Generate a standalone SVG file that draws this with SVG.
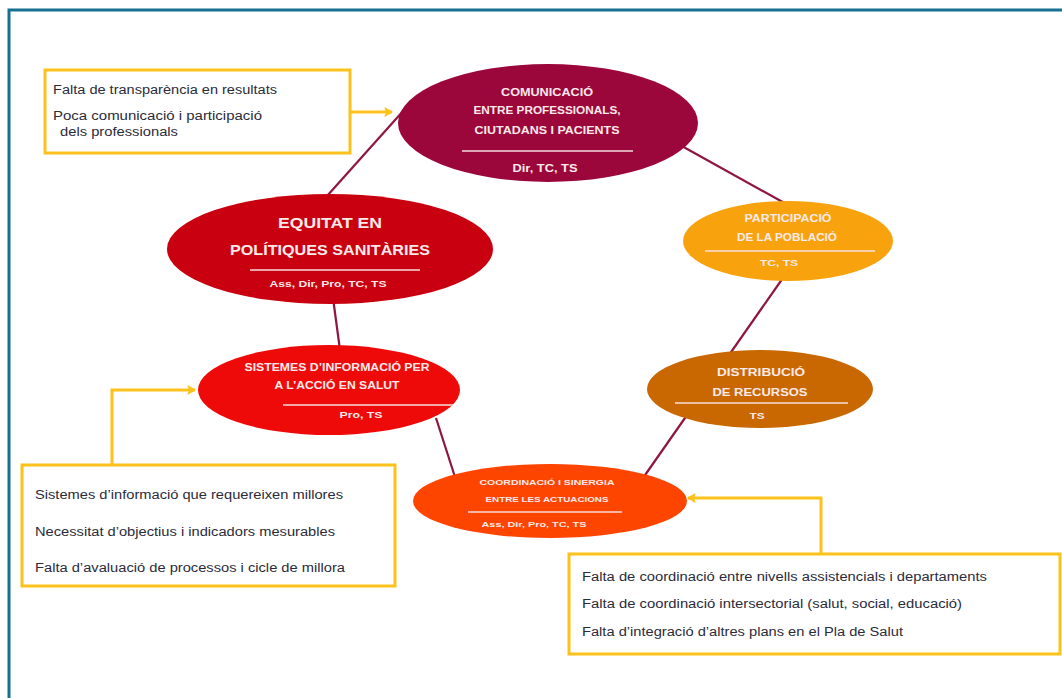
<svg xmlns="http://www.w3.org/2000/svg" width="1062" height="698" viewBox="0 0 1062 698">
  <defs>
    <marker id="arrowY" viewBox="0 0 10 10" refX="8.5" refY="5" markerWidth="10" markerHeight="10" markerUnits="userSpaceOnUse" orient="auto">
      <path d="M1.5,1 L8.5,5 L1.5,9 L3.5,5 Z" fill="#fcc21b" stroke="#fcc21b" stroke-width="1.2" stroke-linejoin="round"/>
    </marker>
    <style>
      .frame { fill: none; stroke: #15718f; stroke-width: 3; }
      .box { fill: #ffffff; stroke: #fcc21b; stroke-width: 3; }
      .flow { fill: none; stroke: #fcc21b; stroke-width: 3; marker-end: url(#arrowY); }
      .link { stroke: #8e1640; stroke-width: 2.2; fill: none; }
      .sep { stroke: #f6dede; stroke-width: 1.5; }
      .t { font-family: "Liberation Sans", Arial, sans-serif; font-weight: bold; fill: #fbeaea; text-anchor: middle; }
      .note { font-family: "Liberation Sans", Arial, sans-serif; font-size: 12px; fill: #2b2b3a; }
    </style>
  </defs>

  <rect width="1062" height="698" fill="#ffffff"/>
  <rect class="frame" x="9" y="10" width="1100" height="760"/>

  <!-- connectors between the themes, and arrows from the problem boxes -->
  <g id="connectors">
    <line class="link" x1="327" y1="196" x2="404" y2="110"/>
    <line class="link" x1="680" y1="145" x2="788" y2="205"/>
    <line class="link" x1="333" y1="298" x2="340" y2="350"/>
    <line class="link" x1="436" y1="418" x2="455" y2="477"/>
    <line class="link" x1="785" y1="275" x2="643" y2="478"/>
    <line class="flow" x1="350" y1="112" x2="392" y2="112"/>
    <polyline class="flow" points="112,465 112,390 195,390"/>
    <polyline class="flow" points="821,554 821,498 688,498"/>
  </g>

  <g id="comunicacio">
    <ellipse cx="548" cy="123" rx="150" ry="59" fill="#9b063b"/>
    <text class="t" font-size="10" x="547" y="96" textLength="92" lengthAdjust="spacingAndGlyphs">COMUNICACIÓ</text>
    <text class="t" font-size="10" x="547" y="114" textLength="147" lengthAdjust="spacingAndGlyphs">ENTRE PROFESSIONALS,</text>
    <text class="t" font-size="10" x="547" y="134" textLength="145" lengthAdjust="spacingAndGlyphs">CIUTADANS I PACIENTS</text>
    <line class="sep" x1="462" y1="151" x2="633" y2="151"/>
    <text class="t" font-size="10" x="545" y="172" textLength="65" lengthAdjust="spacingAndGlyphs">Dir, TC, TS</text>
  </g>

  <g id="equitat">
    <ellipse cx="330" cy="249" rx="163" ry="55" fill="#c9000f"/>
    <text class="t" font-size="15" x="330" y="228" textLength="104" lengthAdjust="spacingAndGlyphs">EQUITAT EN</text>
    <text class="t" font-size="15" x="330" y="255" textLength="200" lengthAdjust="spacingAndGlyphs">POLÍTIQUES SANITÀRIES</text>
    <line class="sep" x1="250" y1="270" x2="420" y2="270"/>
    <text class="t" font-size="9" x="328" y="287" textLength="117" lengthAdjust="spacingAndGlyphs">Ass, Dir, Pro, TC, TS</text>
  </g>

  <g id="participacio">
    <ellipse cx="788" cy="241" rx="105" ry="40" fill="#f8a30d"/>
    <text class="t" font-size="10" x="788" y="222" textLength="87" lengthAdjust="spacingAndGlyphs">PARTICIPACIÓ</text>
    <text class="t" font-size="10" x="787" y="241" textLength="100" lengthAdjust="spacingAndGlyphs">DE LA POBLACIÓ</text>
    <line class="sep" x1="705" y1="251" x2="875" y2="251"/>
    <text class="t" font-size="9" x="779" y="266" textLength="38" lengthAdjust="spacingAndGlyphs">TC, TS</text>
  </g>

  <g id="sistemes">
    <ellipse cx="329" cy="390" rx="131" ry="45" fill="#ef0a0a"/>
    <text class="t" font-size="10" x="337" y="371" textLength="185" lengthAdjust="spacingAndGlyphs">SISTEMES D’INFORMACIÓ PER</text>
    <text class="t" font-size="10" x="337" y="389" textLength="125" lengthAdjust="spacingAndGlyphs">A L’ACCIÓ EN SALUT</text>
    <line class="sep" x1="283" y1="405" x2="453" y2="405"/>
    <text class="t" font-size="9" x="361" y="418" textLength="43" lengthAdjust="spacingAndGlyphs">Pro, TS</text>
  </g>

  <g id="distribucio">
    <ellipse cx="760" cy="389" rx="113" ry="39" fill="#c96700"/>
    <text class="t" font-size="11" x="761" y="376" textLength="88" lengthAdjust="spacingAndGlyphs">DISTRIBUCIÓ</text>
    <text class="t" font-size="11" x="760" y="396" textLength="95" lengthAdjust="spacingAndGlyphs">DE RECURSOS</text>
    <line class="sep" x1="675" y1="403" x2="848" y2="403"/>
    <text class="t" font-size="9" x="757" y="419" textLength="15" lengthAdjust="spacingAndGlyphs">TS</text>
  </g>

  <g id="coordinacio">
    <ellipse cx="550" cy="501" rx="137" ry="37" fill="#fd4500"/>
    <text class="t" font-size="8" x="547" y="485" textLength="135" lengthAdjust="spacingAndGlyphs">COORDINACIÓ I SINERGIA</text>
    <text class="t" font-size="8" x="547" y="502" textLength="123" lengthAdjust="spacingAndGlyphs">ENTRE LES ACTUACIONS</text>
    <line class="sep" x1="468" y1="512" x2="622" y2="512"/>
    <text class="t" font-size="8" x="534" y="527" textLength="105" lengthAdjust="spacingAndGlyphs">Ass, Dir, Pro, TC, TS</text>
  </g>

  <g id="box-comunicacio">
    <rect class="box" x="45" y="70" width="305" height="83"/>
    <text class="note" x="53" y="94" textLength="224" lengthAdjust="spacingAndGlyphs">Falta de transparència en resultats</text>
    <text class="note" x="53" y="120" textLength="209" lengthAdjust="spacingAndGlyphs">Poca comunicació i participació</text>
    <text class="note" x="60" y="136" textLength="118" lengthAdjust="spacingAndGlyphs">dels professionals</text>
  </g>

  <g id="box-sistemes">
    <rect class="box" x="22" y="465" width="373" height="121"/>
    <text class="note" x="35" y="499" textLength="308" lengthAdjust="spacingAndGlyphs">Sistemes d’informació que requereixen millores</text>
    <text class="note" x="35" y="536" textLength="300" lengthAdjust="spacingAndGlyphs">Necessitat d’objectius i indicadors mesurables</text>
    <text class="note" x="35" y="572" textLength="310" lengthAdjust="spacingAndGlyphs">Falta d’avaluació de processos i cicle de millora</text>
  </g>

  <g id="box-coordinacio">
    <rect class="box" x="569" y="554" width="491" height="100"/>
    <text class="note" x="582" y="581" textLength="405" lengthAdjust="spacingAndGlyphs">Falta de coordinació entre nivells assistencials i departaments</text>
    <text class="note" x="582" y="608" textLength="380" lengthAdjust="spacingAndGlyphs">Falta de coordinació intersectorial (salut, social, educació)</text>
    <text class="note" x="582" y="636" textLength="321" lengthAdjust="spacingAndGlyphs">Falta d’integració d’altres plans en el Pla de Salut</text>
  </g>
</svg>
